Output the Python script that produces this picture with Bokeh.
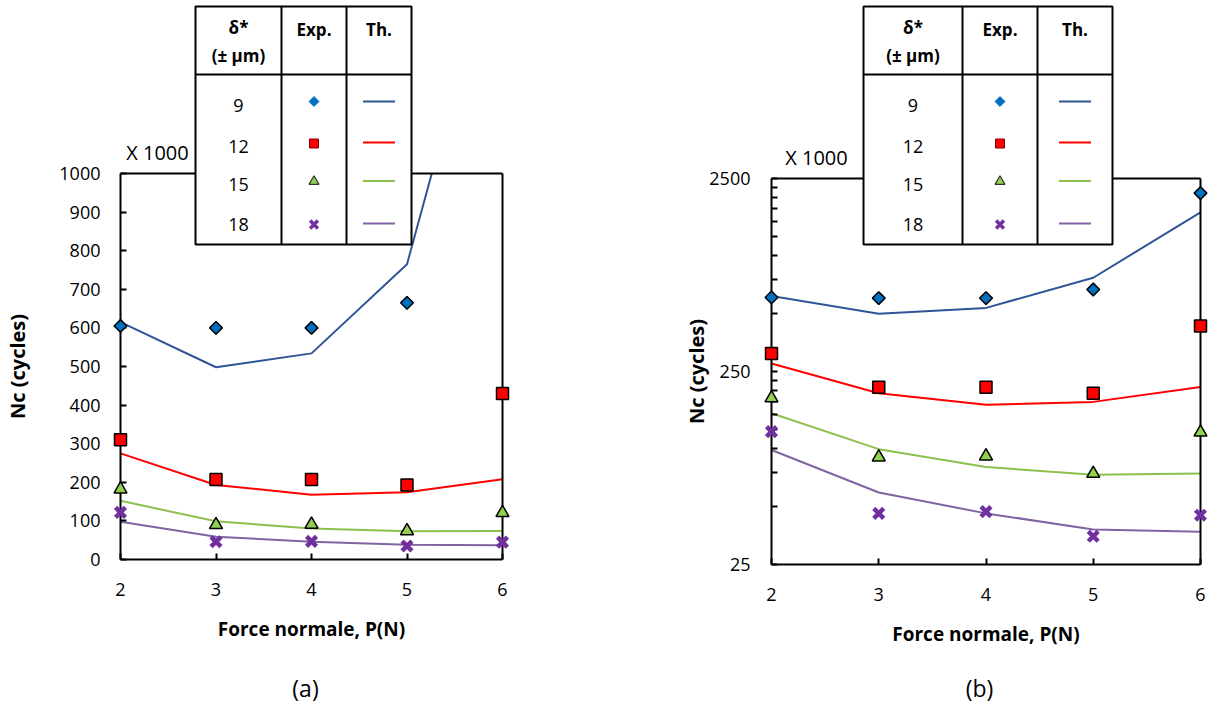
from bokeh.plotting import figure
from bokeh.layouts import GridBox
from bokeh.models import FixedTicker, LinearAxis, Range1d, PrintfTickFormatter
from bokeh.core.properties import value
from bokeh.embed import file_html
from bokeh.resources import INLINE

# ---------------- data ----------------
force = [2, 3, 4, 5, 6]
delta_labels = ["9", "12", "15", "18"]

exp_9 = [605, 600, 600, 665, 2100]
th_9 = [615, 498, 534, 765, 1670]
exp_12 = [310, 207, 207, 193, 430]
th_12 = [275, 193, 168, 174, 208]
exp_15 = [182, 90, 91, 74, 121]
th_15 = [152, 99, 80, 73, 74]
exp_18 = [122, 46, 47, 35, 45]
th_18 = [98, 59, 46, 38, 37]

lin_ticks = [0, 100, 200, 300, 400, 500, 600, 700, 800, 900, 1000]
log_ticks = [25, 250, 2500]
log_minor = [50, 75, 100, 125, 150, 175, 200, 225,
             500, 750, 1000, 1250, 1500, 1750, 2000, 2250]

FONT = "Open Sans"
C_BLUE_M, C_BLUE_L = "#0070C0", "#2F5597"
C_RED = "#FF0000"
C_GREEN_M, C_GREEN_L = "#92D050", "#8FC04F"
C_PURP_M, C_PURP_L = "#7030A0", "#8064A2"

series = [
    (exp_9, th_9, "diamond", C_BLUE_M, C_BLUE_L),
    (exp_12, th_12, "square", C_RED, C_RED),
    (exp_15, th_15, "triangle", C_GREEN_M, C_GREEN_L),
    (exp_18, th_18, "x", C_PURP_M, C_PURP_L),
]

W1, W2, H = 600, 611, 705


def style(p):
    p.grid.visible = False
    p.outline_line_color = None
    p.background_fill_color = "white"
    p.border_fill_color = "white"
    for ax in (p.xaxis[0], p.yaxis[0]):
        ax.axis_line_width = 2
        ax.axis_line_color = "black"
        ax.major_tick_in = 6
        ax.major_tick_out = 0
        ax.major_tick_line_width = 2
        ax.major_tick_line_color = "black"
        ax.minor_tick_out = 0
        ax.major_label_text_font = FONT
        ax.major_label_text_font_size = "18px"
        ax.major_label_text_color = "black"
        ax.axis_label_text_font = FONT
        ax.axis_label_text_font_style = "bold"
        ax.axis_label_text_color = "black"
    xa = p.xaxis[0]
    xa.ticker = FixedTicker(ticks=force)
    xa.minor_tick_line_color = None
    xa.axis_label = "Force normale, P(N)"
    xa.axis_label_text_font_size = "19px"
    xa.major_label_standoff = 23
    xa.axis_label_standoff = 17
    ya = p.yaxis[0]
    ya.axis_label = "Nc (cycles)"
    ya.axis_label_text_font_size = "20px"
    for side in ("above", "right"):
        b = LinearAxis(ticker=FixedTicker(ticks=[]), major_tick_line_color=None,
                       minor_tick_line_color=None, major_label_text_font_size="0px",
                       axis_line_width=2, axis_line_color="black",
                       major_label_standoff=0, major_tick_out=0, minor_tick_out=0)
        p.add_layout(b, side)


def draw_data(p):
    for ex, th, mk, cm, cl in series:
        p.line(force, th, line_color=cl, line_width=2)
    for ex, th, mk, cm, cl in series:
        if mk == "diamond":
            p.scatter(force, ex, marker="square", angle=0.785398, size=9,
                      fill_color=cm, line_color="black", line_width=1.5, level="overlay")
        elif mk == "square":
            p.scatter(force, ex, marker="square", size=12,
                      fill_color=cm, line_color="black", line_width=1.5, level="overlay")
        elif mk == "triangle":
            p.scatter(force, ex, marker="triangle", size=13,
                      fill_color=cm, line_color="black", line_width=1.5, level="overlay")
        else:
            p.scatter(force, ex, marker="x", size=14,
                      line_color=cm, line_width=4.5, level="overlay")


# ---------------- figure (a) ----------------
p1 = figure(width=W1, height=H, output_backend="svg", toolbar_location=None,
            x_range=Range1d(2, 6), y_range=Range1d(0, 1000),
            min_border_left=120, min_border_right=98, min_border_top=173,
            min_border_bottom=146, frame_align=False)
style(p1)
p1.yaxis[0].ticker = FixedTicker(ticks=lin_ticks)
p1.yaxis[0].minor_tick_line_color = None
p1.yaxis[0].major_label_standoff = 20
p1.yaxis[0].axis_label_standoff = 25
draw_data(p1)

# ---------------- figure (b) ----------------
p2 = figure(width=W2, height=H, output_backend="svg", toolbar_location=None,
            x_range=Range1d(2, 6), y_range=Range1d(25, 2500), y_axis_type="log",
            min_border_left=171, min_border_right=11, min_border_top=178,
            min_border_bottom=141, frame_align=False)
style(p2)
p2.yaxis[0].ticker = FixedTicker(ticks=log_ticks, minor_ticks=log_minor)
p2.yaxis[0].formatter = PrintfTickFormatter(format="%d")
p2.yaxis[0].minor_tick_in = 6
p2.yaxis[0].minor_tick_line_width = 2
p2.yaxis[0].minor_tick_line_color = "black"
p2.yaxis[0].major_label_standoff = 21
p2.yaxis[0].axis_label_standoff = -4
draw_data(p2)

# ---------------- overlay (tables, captions) in pixel coordinates ----------------
ov = figure(width=W1 + W2, height=H, output_backend="svg", toolbar_location=None,
            x_range=Range1d(0, W1 + W2), y_range=Range1d(H, 0),
            min_border=0, x_axis_location=None, y_axis_location=None,
            frame_align=False)
ov.grid.visible = False
ov.outline_line_color = None
ov.background_fill_color = None
ov.border_fill_color = None


def txt(x, y, t, size="18px", style="normal"):
    ov.text([x], [y], text=[t], text_font=value(FONT), text_font_size=size,
            text_font_style=style, text_align="center", text_baseline="middle",
            text_color="black")


def table(left, right, c1, c2, top=6, bottom=244, hline=74):
    ov.quad(left=[left], right=[right], top=[top], bottom=[bottom],
            fill_color="white", line_color="black", line_width=2)
    ov.segment(x0=[c1, c2, left], y0=[top, top, hline],
               x1=[c1, c2, right], y1=[bottom, bottom, hline],
               line_color="black", line_width=2)
    xa = (left + c1) / 2
    xb = (c1 + c2) / 2
    xc = (c2 + right) / 2
    txt(xa, 27, "δ*", "17px", "bold")
    txt(xa, 55, "(± μm)", "17px", "bold")
    txt(xb, 29, "Exp.", "17px", "bold")
    txt(xc, 29, "Th.", "17px", "bold")
    text_y = [105, 146, 184, 224]
    mark_y = [101, 143, 181, 224]
    line_y = [101, 142, 180.5, 223]
    for (ex, th, mk, cm, cl), lab, ty, my, ly in zip(series, delta_labels,
                                                       text_y, mark_y, line_y):
        txt(xa, ty, lab, "18px")
        if mk == "diamond":
            ov.scatter([xb], [my], marker="square", angle=0.785398, size=7,
                       fill_color=cm, line_color=cm)
        elif mk == "square":
            ov.scatter([xb], [my], marker="square", size=9,
                       fill_color=cm, line_color="#7F0000", line_width=1)
        elif mk == "triangle":
            ov.scatter([xb], [my], marker="triangle", size=10,
                       fill_color=cm, line_color="#333333", line_width=1.2)
        else:
            ov.scatter([xb], [my], marker="x", size=11, line_color=cm, line_width=3.5)
        ov.segment(x0=[xc - 16], y0=[ly], x1=[xc + 16], y1=[ly],
                   line_color=cl, line_width=2)


table(195, 411, 281, 346)
table(863, 1112, 962, 1037)
txt(157, 152, "X 1000", "20px")
txt(816, 157, "X 1000", "20px")
txt(305, 687, "(a)", "23px")
txt(979, 687, "(b)", "23px")

layout = GridBox(children=[(p1, 0, 0), (p2, 0, 1), (ov, 0, 0, 1, 2)], spacing=0)
open("out.html", "w").write(file_html(layout, INLINE))
